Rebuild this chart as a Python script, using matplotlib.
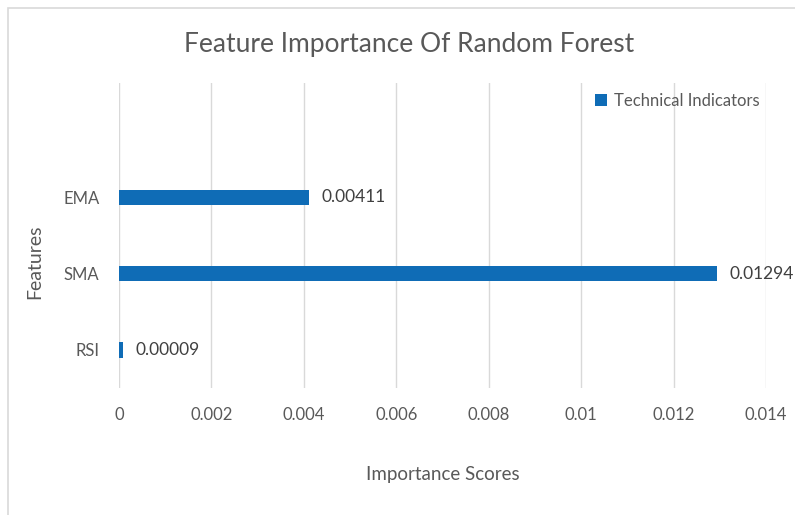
import matplotlib.pyplot as plt
from matplotlib.patches import Rectangle

# Data
features = ["RSI", "SMA", "EMA"]
scores = [0.00009, 0.01294, 0.00411]
score_labels = ["0.00009", "0.01294", "0.00411"]
x_ticks = [0, 0.002, 0.004, 0.006, 0.008, 0.01, 0.012, 0.014]
x_tick_labels = ["0", "0.002", "0.004", "0.006", "0.008", "0.01", "0.012", "0.014"]

blue = "#0F6CB6"
grey_text = "#595959"

plt.rcParams["font.family"] = ["Lato", "DejaVu Sans"]

fig = plt.figure(figsize=(7.95, 5.15), dpi=100)
ax = fig.add_axes([0.1497, 0.2466, 0.8138, 0.5922])

# chart frame (light border, cut off at right and bottom)
fig.patches.append(Rectangle((8 / 795, -0.1), 1.2, 1 - 8 / 515 + 0.1,
                             transform=fig.transFigure, fill=False,
                             edgecolor="#D9D9D9", linewidth=1.2))

ypos = list(range(len(features)))
ax.barh(ypos, scores, height=0.2, color=blue, label="Technical Indicators", zorder=3)

for y, v, lab in zip(ypos, scores, score_labels):
    ax.annotate(lab, (v, y), xytext=(9, 0), textcoords="offset points",
                va="center", ha="left", fontsize=12.5, color="#404040")

ax.set_xlim(0, 0.014)
ax.set_ylim(-0.5, 3.5)
ax.set_xticks(x_ticks)
ax.set_xticklabels(x_tick_labels)
ax.set_yticks(ypos)
ax.set_yticklabels(features)
ax.tick_params(axis="both", length=0, labelsize=12, colors=grey_text)
ax.tick_params(axis="x", pad=14)
ax.tick_params(axis="y", pad=14)

ax.grid(axis="x", color="#D9D9D9", linewidth=1, zorder=0)
for s in ax.spines.values():
    s.set_visible(False)

ax.set_xlabel("Importance Scores", fontsize=13.5, color=grey_text)
ax.set_ylabel("Features", fontsize=14, color=grey_text)
ax.xaxis.set_label_coords(0.5, -0.285)
ax.yaxis.set_label_coords(-0.13, 0.413)
ax.xaxis.label.set_va("center")
ax.yaxis.label.set_va("center")

fig.text(0.515, 0.913, "Feature Importance Of Random Forest", ha="center", va="center",
         fontsize=19, color=grey_text)

leg = ax.legend(loc="upper right", bbox_to_anchor=(1.005, 1.0), frameon=False,
                fontsize=12, handlelength=0.7, handleheight=0.7, handletextpad=0.4,
                borderaxespad=0.2)
for t in leg.get_texts():
    t.set_color(grey_text)

fig.savefig("out.png", dpi=100, facecolor="white")
